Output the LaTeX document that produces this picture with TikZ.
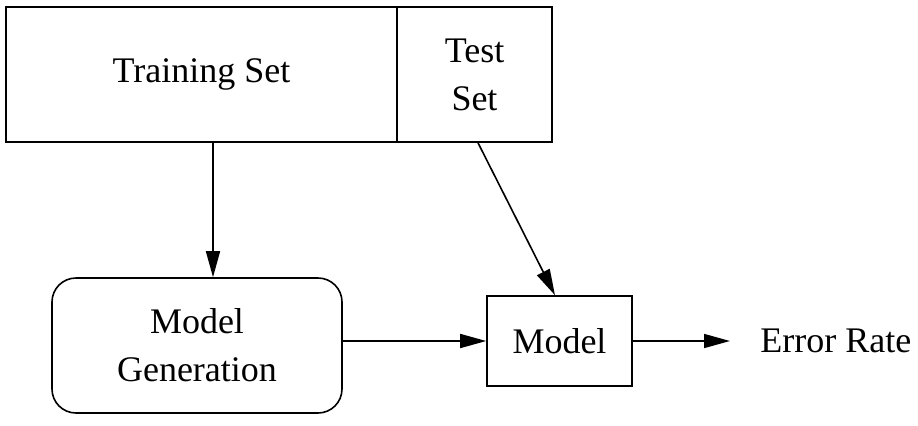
\documentclass[tikz,border=0pt]{standalone}
\usepackage{fontspec}
\setmainfont{Liberation Serif}
\usepackage{tikz}
\usetikzlibrary{arrows.meta}
\usetikzlibrary{positioning}
\usetikzlibrary{calc}
\tikzset{
    databox/.style={draw=black, line width=0.8pt, inner sep=0pt, align=center},
    genbox/.style={draw=black, line width=0.8pt, rounded corners=12pt, inner sep=0pt, align=center},
    flow/.style={draw=black, line width=0.8pt, -{Triangle[length=13pt,width=7pt]}}
}

\begin{document}
\begin{tikzpicture}[x=0.5pt,y=-0.5pt,font=\fontsize{18}{24}\selectfont]
	\useasboundingbox (0,0) rectangle (918,425);
	\node[databox, minimum width=195.5pt, minimum height=67.5pt] (train) at (201.5,74.5) {Training Set};
	\node[databox, minimum width=77.5pt, minimum height=67.5pt] (test) at (474.5,74.5) {Test\\Set};
	\node[genbox, minimum width=145pt, minimum height=67.5pt] (gen) at (197,345.5) {Model\\Generation};
	\node[databox, minimum width=72.5pt, minimum height=45pt] (model) at (559.5,341) {Model};
	\node[inner sep=0pt, anchor=west] (error) at (760,341) {Error Rate};
	\draw[flow] ([xshift=5.75pt]train.south) -- ([xshift=8pt]gen.north);
	\draw[flow] ([xshift=1.75pt]test.south) -- ([xshift=-2.25pt]model.north);
	\draw[flow] (model.west -| gen.east) -- (model.west);
	\draw[flow, shorten >=15pt] (model.east) -- (error.west);
\end{tikzpicture}
\end{document}
